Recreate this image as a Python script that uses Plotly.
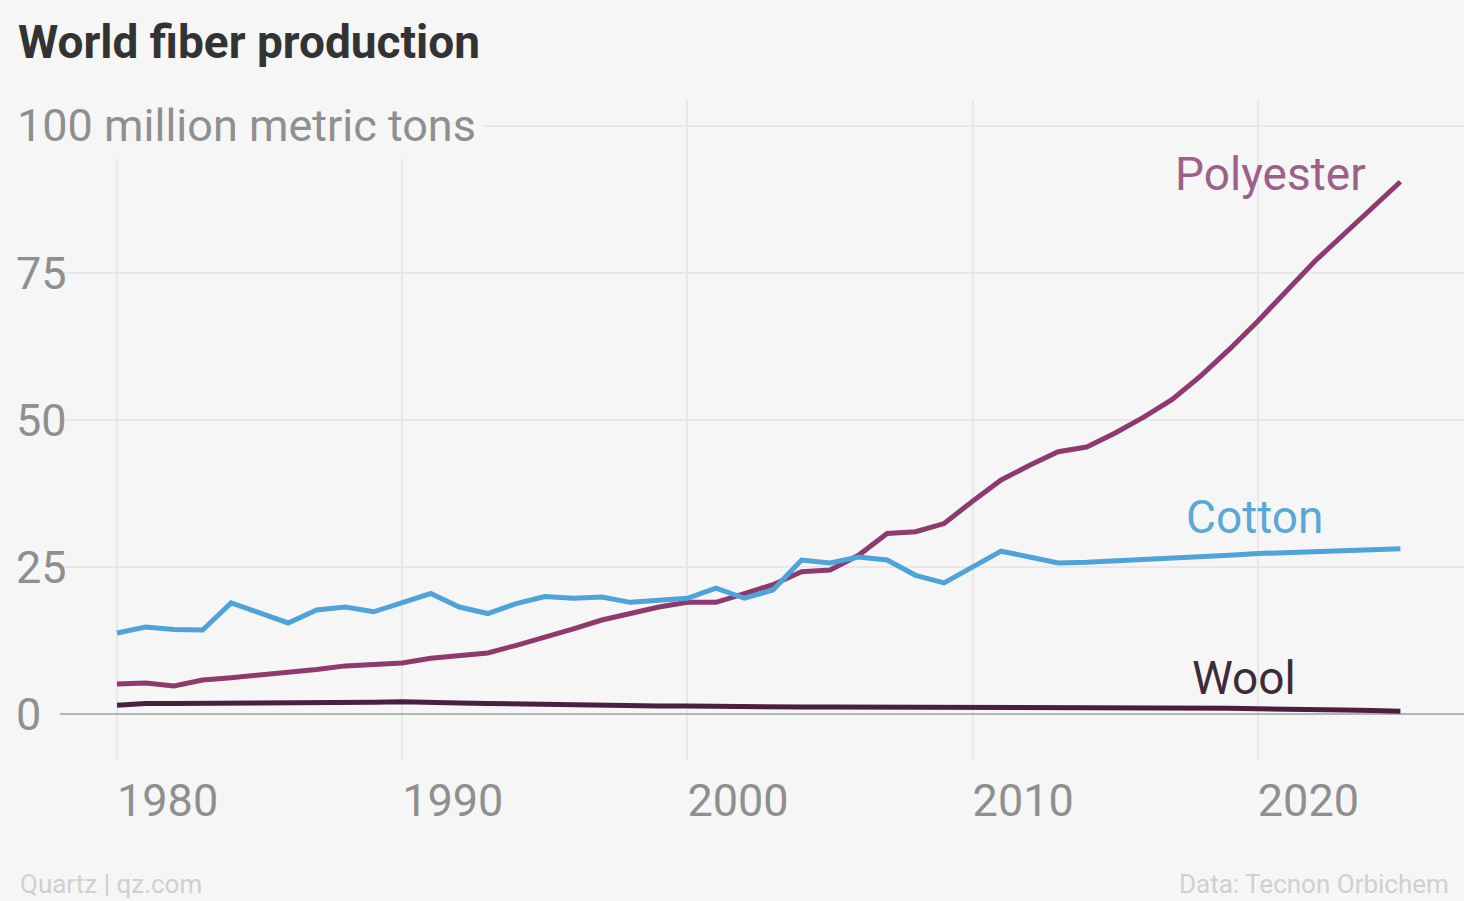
import plotly.graph_objects as go

# World fiber production, million metric tons
years = list(range(1980, 2026))

polyester = [5.1, 5.3, 4.8, 5.8, 6.2, 6.6, 7.0, 7.6, 8.2, 8.5,
             8.7, 9.5, 10.0, 10.4, 11.7, 13.0, 14.5, 16.0, 17.2, 18.2,
             19.0, 19.0, 20.5, 22.0, 24.2, 24.5, 27.0, 30.7, 31.0, 32.4,
             36.2, 39.8, 42.3, 44.6, 45.4, 47.8, 50.5, 53.5, 57.5, 62.0,
             66.8, 72.0, 77.0, 81.5, 86.0, 90.5]

cotton = [13.8, 14.8, 14.4, 14.3, 18.9, 17.2, 15.5, 17.7, 18.2, 17.4,
          19.0, 20.5, 18.2, 17.1, 18.8, 20.0, 19.7, 19.9, 19.0, 19.4,
          19.7, 21.4, 19.7, 21.1, 26.2, 25.7, 26.7, 26.2, 23.6, 22.3,
          25.0, 27.7, 26.7, 25.7, 25.8, 26.0, 26.3, 26.6, 26.8, 27.0,
          27.3, 27.5, 27.7, 27.8, 28.0, 28.1]

wool = [1.5, 1.8, 1.8, 1.8, 1.8, 1.8, 1.9, 1.9, 2.0, 2.0,
        2.1, 2.1, 1.9, 1.8, 1.7, 1.6, 1.5, 1.5, 1.4, 1.4,
        1.4, 1.3, 1.3, 1.3, 1.2, 1.2, 1.2, 1.2, 1.1, 1.1,
        1.1, 1.1, 1.1, 1.1, 1.1, 1.0, 1.0, 1.0, 1.0, 1.0,
        0.9, 0.9, 0.8, 0.7, 0.6, 0.5]

series_names = ["Polyester", "Cotton", "Wool"]
line_colors = ["#8e3a6e", "#4ea3d8", "#4b1f3f"]
label_colors = ["#9d6088", "#5aa8d6", "#3e2a38"]
label_years = [2020.45, 2019.9, 2019.5]
label_values = [91.8, 33.5, 6.1]

x_ticks = [1980, 1990, 2000, 2010, 2020]
y_ticks = [0, 25, 50, 75, 100]
y_ticktext = ["0", "25", "50", "75", ""]
y_unit_label = "100 million metric tons"

FONT = "Roboto, 'Open Sans', sans-serif"
BG = "#f6f6f6"

# Plot-area geometry in pixels, used to place paper-referenced text
PLOT_L, PLOT_T, PLOT_W, PLOT_H = 60, 100, 1404, 660


def px_x(px):
    return (px - PLOT_L) / PLOT_W


def px_y(py):
    return (PLOT_T + PLOT_H - py) / PLOT_H


fig = go.Figure()
for name, vals, col in zip(series_names, [polyester, cotton, wool], line_colors):
    fig.add_trace(go.Scatter(x=years, y=vals, mode="lines", name=name,
                             line=dict(color=col, width=5), hoverinfo="skip"))

for name, col, lx, ly in zip(series_names, label_colors, label_years, label_values):
    fig.add_annotation(x=lx, y=ly, xref="x", yref="y", text=name, showarrow=False,
                       font=dict(family=FONT, size=46, color=col),
                       xanchor="center", yanchor="middle")

# Top tick label carries the unit, boxed so the grid stays behind it
fig.add_annotation(x=px_x(10), y=100, xref="paper", yref="y", text=y_unit_label,
                   showarrow=False, bgcolor=BG, borderpad=6,
                   font=dict(family=FONT, size=45, color="#8f8f8f"),
                   xanchor="left", yanchor="middle")

fig.add_annotation(x=px_x(18), y=px_y(884), xref="paper", yref="paper", text="Quartz | qz.com",
                   showarrow=False, font=dict(family=FONT, size=26, color="#d0d0d0"),
                   xanchor="left", yanchor="middle")
fig.add_annotation(x=px_x(1177), y=px_y(884), xref="paper", yref="paper",
                   text="Data: Tecnon Orbichem",
                   showarrow=False, font=dict(family=FONT, size=26, color="#d0d0d0"),
                   xanchor="left", yanchor="middle")

fig.update_layout(
    width=1464, height=901,
    paper_bgcolor=BG, plot_bgcolor=BG,
    margin=dict(l=PLOT_L, r=0, t=PLOT_T, b=901 - PLOT_T - PLOT_H),
    showlegend=False,
    title=dict(text="<b>World fiber production</b>", x=18 / 1464, xanchor="left",
               y=1 - 42 / 901, yanchor="middle", xref="container", yref="container",
               font=dict(family=FONT, size=46, color="#333333")),
    xaxis=dict(range=[1978.0, 2027.23], tickvals=x_ticks, ticktext=[str(t) for t in x_ticks],
               showgrid=True, gridcolor="#e8e8e8", gridwidth=1.5, zeroline=False,
               showline=False, ticks="", ticklabelposition="outside right",
               ticklabelstandoff=10,
               tickfont=dict(family=FONT, size=45, color="#8f8f8f")),
    yaxis=dict(range=[-7.8, 104.4], tickvals=y_ticks, ticktext=y_ticktext,
               showgrid=True, gridcolor="#e8e8e8", gridwidth=1.5,
               zeroline=True, zerolinecolor="#b3b3b3", zerolinewidth=2,
               showline=False, ticks="", ticklabelposition="inside",
               ticklabelstandoff=-47,
               tickfont=dict(family=FONT, size=45, color="#8f8f8f")),
)

fig.write_html("out.html")
